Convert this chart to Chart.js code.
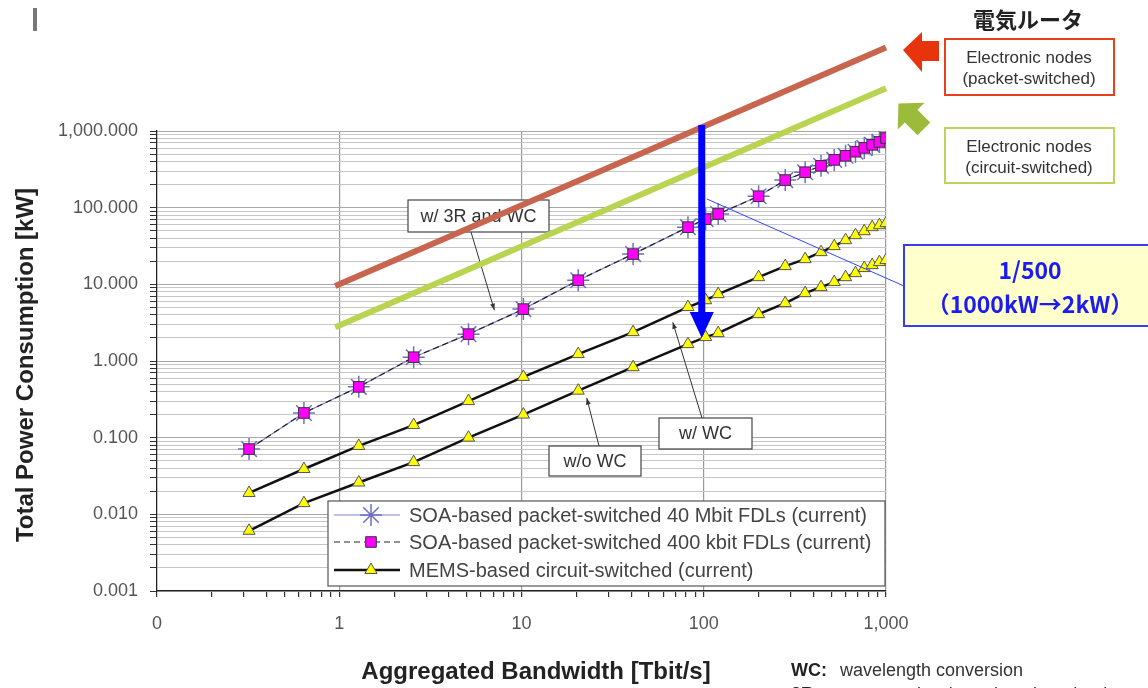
<!DOCTYPE html>
<html>
<head>
<meta charset="utf-8">
<script src="https://cdn.jsdelivr.net/npm/chart.js@4.4.1/dist/chart.umd.min.js"></script>
<style>
  html, body { margin: 0; padding: 0; background: #fff; overflow: hidden; }
  canvas { display: block; }
</style>
</head>
<body>
<canvas id="chart" width="1148" height="688"></canvas>
<script>
// ─── Données ─────────────────────────────────────────────────────────────
// Bande passante agrégée [Tbit/s]
const bandwidth = [0.32, 0.64, 1.28, 2.56, 5.12, 10.24, 20.48, 40.96, 81.92, 102.4, 120,
                   200, 280, 360, 440, 520, 600, 680, 760, 840, 920, 1000];
// Consommation [kW]
const soa40M   = [0.071, 0.21, 0.46, 1.12, 2.24, 4.75, 11.3, 24.8, 55.7, 70.8, 82.8,
                  141, 229, 290, 351, 420, 475, 537, 602, 660, 720, 810];
const soa400k  = [0.071, 0.21, 0.46, 1.12, 2.24, 4.75, 11.3, 24.8, 55.7, 70.8, 82.8,
                  141, 229, 290, 351, 420, 475, 537, 602, 660, 720, 810];
const memsWC   = [0.019, 0.039, 0.078, 0.146, 0.30, 0.62, 1.23, 2.38, 5.05, 6.2, 7.45,
                  12.4, 17.3, 21.3, 26.3, 31.5, 37.7, 43.8, 49.3, 55.7, 59.1, 62.8];
const memsNoWC = [0.0061, 0.014, 0.026, 0.048, 0.10, 0.20, 0.41, 0.83, 1.66, 2.05, 2.31,
                  4.08, 5.69, 7.67, 9.19, 10.7, 12.4, 14.0, 16.3, 17.8, 19.5, 20.7];

// Routeurs électroniques (droites de référence)
const elecX       = [0.95, 1000];
const elecPacket  = [9.5, 12300];
const elecCircuit = [2.76, 3620];

// Flèche 1/500 : 1000 kW → 2 kW à 100 Tbit/s
const arrowX    = 100;
const arrowFrom = 1200;
const arrowTo   = 2;

// Graduations
const xTickValues = [0.1, 1, 10, 100, 1000];
const xTickLabels = ['0', '1', '10', '100', '1,000'];
const yTickValues = [0.001, 0.01, 0.1, 1, 10, 100, 1000];
const yTickLabels = ['0.001', '0.010', '0.100', '1.000', '10.000', '100.000', '1,000.000'];

const seriesLabels = [
  'SOA-based packet-switched 40 Mbit FDLs (current)',
  'SOA-based packet-switched 400 kbit FDLs (current)',
  'MEMS-based circuit-switched (current)',
];

// ─── Helpers ─────────────────────────────────────────────────────────────
const FONT = "'Liberation Sans', Arial, sans-serif";
const JP   = "'Noto Sans CJK JP', 'Noto Sans', sans-serif";

function pts(xs, ys) { return xs.map((x, i) => ({ x, y: ys[i] })); }

function isDecade(v) {
  const l = Math.log10(v);
  return Math.abs(l - Math.round(l)) < 1e-9;
}

// toutes les valeurs 1..9 × 10^n entre min et max (quadrillage secondaire)
function logGrid(min, max) {
  const out = [];
  for (let e = Math.round(Math.log10(min)); e < Math.round(Math.log10(max)); e++) {
    for (let m = 1; m < 10; m++) out.push(Number((m * Math.pow(10, e)).toPrecision(3)));
  }
  out.push(max);
  return out;
}

function label(values, labels, v) {
  const i = values.findIndex((t) => Math.abs(t - v) / t < 1e-6);
  return i < 0 ? '' : labels[i];
}

function txt(ctx, s, x, y, font, color, align) {
  ctx.font = font;
  ctx.fillStyle = color;
  ctx.textAlign = align || 'center';
  ctx.textBaseline = 'middle';
  ctx.fillText(s, x, y);
}

function box(ctx, x, y, w, h, fill, stroke, lw) {
  ctx.fillStyle = fill;
  ctx.fillRect(x, y, w, h);
  ctx.strokeStyle = stroke;
  ctx.lineWidth = lw;
  ctx.strokeRect(x, y, w, h);
}

function leader(ctx, x1, y1, x2, y2) {
  ctx.strokeStyle = '#333';
  ctx.lineWidth = 1;
  ctx.beginPath(); ctx.moveTo(x1, y1); ctx.lineTo(x2, y2); ctx.stroke();
  const a = Math.atan2(y2 - y1, x2 - x1);
  ctx.fillStyle = '#333';
  ctx.beginPath();
  ctx.moveTo(x2, y2);
  ctx.lineTo(x2 - 7 * Math.cos(a - 0.35), y2 - 7 * Math.sin(a - 0.35));
  ctx.lineTo(x2 - 7 * Math.cos(a + 0.35), y2 - 7 * Math.sin(a + 0.35));
  ctx.closePath(); ctx.fill();
}

// étiquettes avec renvoi (position de la boîte en px, cible en données)
const notes = [
  { text: 'w/ 3R and WC', box: [408, 200, 141, 32], from: [471, 232], to: { x: 7.1,  y: 4.6 } },
  { text: 'w/ WC',        box: [659, 418, 93, 31],  from: [702, 418], to: { x: 67.6, y: 3.2 } },
  { text: 'w/o WC',       box: [549, 446, 92, 30],  from: [599, 446], to: { x: 22.8, y: 0.33 } },
];

// ─── Plugin : annotations, légende, titres ───────────────────────────────
const decorations = {
  id: 'decorations',
  beforeDatasetsDraw(chart) {
    const { ctx, scales: { x, y } } = chart;
    ctx.save();
    notes.forEach((n) => {
      const [bx, by, bw, bh] = n.box;
      box(ctx, bx, by, bw, bh, '#fff', '#444', 1.2);
      txt(ctx, n.text, bx + bw / 2, by + bh / 2 + 1, '18px ' + FONT, '#333');
      leader(ctx, n.from[0], n.from[1], x.getPixelForValue(n.to.x), y.getPixelForValue(n.to.y));
    });
    ctx.restore();
  },
  afterDatasetsDraw(chart) {
    const { ctx, scales: { x, y } } = chart;
    ctx.save();
    // trait fin vers l'encadré
    ctx.strokeStyle = '#3344ff';
    ctx.lineWidth = 1;
    ctx.beginPath();
    ctx.moveTo(x.getPixelForValue(arrowX) + 3, y.getPixelForValue(130));
    ctx.lineTo(904, 286);
    ctx.stroke();
    // grosse flèche bleue
    const xa = x.getPixelForValue(arrowX) - 2;
    const yt = y.getPixelForValue(arrowFrom);
    const yb = y.getPixelForValue(arrowTo);
    ctx.fillStyle = '#0000ff';
    ctx.fillRect(xa - 3.5, yt, 7, yb - 25 - yt);
    ctx.beginPath();
    ctx.moveTo(xa - 12, yb - 26);
    ctx.lineTo(xa + 12, yb - 26);
    ctx.lineTo(xa, yb);
    ctx.closePath(); ctx.fill();
    ctx.restore();
  },
  afterDraw(chart) {
    const { ctx } = chart;
    ctx.save();

    // légende (une ligne par libellé, styles pris dans les jeux de données)
    box(ctx, 328, 501, 557, 85, '#fff', '#555', 1.2);
    const rows = [515, 542, 570];
    rows.forEach((ry, i) => {
      const ds = chart.data.datasets.find((d) => d.label === seriesLabels[i]);
      ctx.strokeStyle = ds.borderColor;
      ctx.lineWidth = ds.borderWidth;
      ctx.setLineDash(ds.borderDash || []);
      ctx.beginPath(); ctx.moveTo(334, ry); ctx.lineTo(400, ry); ctx.stroke();
      ctx.setLineDash([]);
      ctx.fillStyle = ds.pointBackgroundColor;
      ctx.strokeStyle = ds.pointBorderColor;
      ctx.lineWidth = ds.pointBorderWidth;
      Chart.helpers.drawPoint(ctx, {
        pointStyle: ds.pointStyle, radius: ds.pointRadius, rotation: 0, borderWidth: ds.pointBorderWidth,
      }, 371, ry);
      txt(ctx, seriesLabels[i], 409, ry + 1, '20px ' + FONT, '#444', 'left');
    });

    // titres des axes
    txt(ctx, 'Aggregated Bandwidth [Tbit/s]', 536, 672, 'bold 24px ' + FONT, '#222');
    ctx.save();
    ctx.translate(26, 365);
    ctx.rotate(-Math.PI / 2);
    txt(ctx, 'Total Power Consumption [kW]', 0, 0, 'bold 24px ' + FONT, '#222');
    ctx.restore();

    // note de bas de page
    txt(ctx, 'WC:', 791, 671, 'bold 18px ' + FONT, '#222', 'left');
    txt(ctx, 'wavelength conversion', 840, 671, '18px ' + FONT, '#333', 'left');
    txt(ctx, '3R:', 791, 695, 'bold 18px ' + FONT, '#222', 'left');
    txt(ctx, 'regeneration (wavelength reshaping, retiming)', 840, 695, '18px ' + FONT, '#333', 'left');

    // petit repère en haut à gauche
    ctx.fillStyle = '#777';
    ctx.fillRect(33, 8, 4, 23);

    // encadré 1/500
    box(ctx, 904, 245, 260, 81, '#ffffcc', '#3a3af0', 2);
    txt(ctx, '1/500', 1030, 270, 'bold 23px ' + JP, '#1c1cf0');
    txt(ctx, '（1000kW→2kW）', 1030, 304, 'bold 23px ' + JP, '#1c1cf0');

    // en-tête et encadrés « Electronic nodes »
    txt(ctx, '電気ルータ', 1028, 20, 'bold 22px ' + JP, '#222');
    box(ctx, 945, 39, 169, 56, '#fff', '#e8401c', 2);
    txt(ctx, 'Electronic nodes', 1029, 58, '17px ' + FONT, '#333');
    txt(ctx, '(packet-switched)', 1029, 79, '17px ' + FONT, '#333');
    box(ctx, 945, 128, 169, 55, '#fff', '#bcd45c', 2);
    txt(ctx, 'Electronic nodes', 1029, 147, '17px ' + FONT, '#333');
    txt(ctx, '(circuit-switched)', 1029, 168, '17px ' + FONT, '#333');

    // flèche rouge (vers la gauche)
    ctx.fillStyle = '#e8340c';
    ctx.beginPath();
    ctx.moveTo(903, 50); ctx.lineTo(922, 32); ctx.lineTo(922, 41); ctx.lineTo(939, 41);
    ctx.lineTo(939, 61); ctx.lineTo(922, 61); ctx.lineTo(922, 72);
    ctx.closePath(); ctx.fill();

    // flèche verte (vers le haut-gauche)
    ctx.fillStyle = '#9dbb3a';
    ctx.save();
    ctx.translate(914, 119);
    ctx.rotate(Math.PI / 4);
    ctx.beginPath();
    ctx.moveTo(-22, 0); ctx.lineTo(-4, -19); ctx.lineTo(-4, -9); ctx.lineTo(14, -9);
    ctx.lineTo(14, 9); ctx.lineTo(-4, 9); ctx.lineTo(-4, 19);
    ctx.closePath(); ctx.fill();
    ctx.restore();

    ctx.restore();
  },
};

// ─── Graphique ───────────────────────────────────────────────────────────
new Chart(document.getElementById('chart'), {
  type: 'line',
  data: {
    datasets: [
      {
        label: seriesLabels[1], data: pts(bandwidth, soa400k), order: 0,
        borderColor: '#222', borderWidth: 1.2, borderDash: [6, 4],
        pointStyle: 'rect', pointRadius: 7.5, pointBackgroundColor: '#ff00ff',
        pointBorderColor: '#333', pointBorderWidth: 1,
      },
      {
        label: seriesLabels[0], data: pts(bandwidth, soa40M), order: 1,
        borderColor: '#8080c8', borderWidth: 1.2,
        pointStyle: 'star', pointRadius: 11, pointBackgroundColor: '#6f6fc4',
        pointBorderColor: '#6f6fc4', pointBorderWidth: 1.5,
      },
      {
        label: seriesLabels[2], data: pts(bandwidth, memsWC), order: 2,
        borderColor: '#111', borderWidth: 2.5,
        pointStyle: 'triangle', pointRadius: 7, pointBackgroundColor: '#ffff00',
        pointBorderColor: '#555', pointBorderWidth: 1,
      },
      {
        label: seriesLabels[2] + ' ', data: pts(bandwidth, memsNoWC), order: 3,
        borderColor: '#111', borderWidth: 2.5,
        pointStyle: 'triangle', pointRadius: 7, pointBackgroundColor: '#ffff00',
        pointBorderColor: '#555', pointBorderWidth: 1,
      },
      {
        label: 'Electronic nodes (packet-switched)', data: pts(elecX, elecPacket), order: 4,
        borderColor: '#c8654e', borderWidth: 6, pointRadius: 0, clip: false,
      },
      {
        label: 'Electronic nodes (circuit-switched)', data: pts(elecX, elecCircuit), order: 5,
        borderColor: '#bad452', borderWidth: 6, pointRadius: 0, clip: false,
      },
    ],
  },
  options: {
    responsive: false,
    animation: false,
    devicePixelRatio: 1,
    events: [],
    layout: { padding: { left: 0, top: 131, right: 262, bottom: 0 } },
    plugins: {
      legend:  { display: false },
      tooltip: { enabled: false },
    },
    elements: { line: { tension: 0, fill: false } },
    scales: {
      x: {
        type: 'logarithmic', min: 0.1, max: 1000,
        afterFit: (s) => { s.height = 97; },
        afterBuildTicks: (s) => { s.ticks = logGrid(0.1, 1000).map((v) => ({ value: v })); },
        border: { color: '#222', width: 1.2 },
        grid: {
          color: (c) => (c.tick && isDecade(c.tick.value) ? '#9a9a9a' : 'rgba(0,0,0,0)'),
          tickColor: '#333', tickLength: 6, lineWidth: 1.2,
        },
        ticks: {
          autoSkip: false, maxRotation: 0, padding: 16,
          color: '#555', font: { family: FONT, size: 18 },
          callback: (v) => label(xTickValues, xTickLabels, v),
        },
      },
      y: {
        type: 'logarithmic', min: 0.001, max: 1000,
        afterFit: (s) => { s.width = 157; },
        afterBuildTicks: (s) => { s.ticks = logGrid(0.001, 1000).map((v) => ({ value: v })); },
        border: { color: '#222', width: 1.2 },
        grid: {
          color: (c) => (c.tick && isDecade(c.tick.value) ? '#a8a8a8' : '#c6c6c6'),
          tickColor: '#333', tickLength: 7, lineWidth: 1,
        },
        ticks: {
          autoSkip: false, padding: 12,
          color: '#555', font: { family: FONT, size: 18 },
          callback: (v) => label(yTickValues, yTickLabels, v),
        },
      },
    },
  },
  plugins: [decorations],
});
</script>
</body>
</html>
